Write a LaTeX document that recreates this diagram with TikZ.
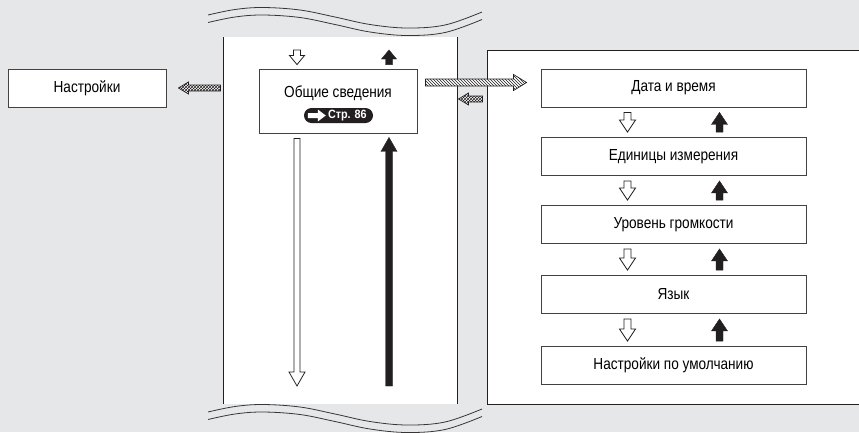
\documentclass[tikz,border=0pt]{standalone}
\usepackage{fontspec}
\setmainfont{Liberation Sans}[FakeStretch=0.85]
\newfontfamily\pgfont{Liberation Sans}[FakeStretch=0.9]
\usetikzlibrary{calc,patterns}
\definecolor{bg}{HTML}{E6E7E8}
\definecolor{ink}{HTML}{231F20}
\newcommand{\blockarrow}[6]{%
  \path[#1] let \p1=(#2), \p2=(#3), \n1={atan2(\y2-\y1,\x2-\x1)}, \n2={veclen(\x2-\x1,\y2-\y1)} in
   ([shift={(\p1)},rotate=\n1]0,#4) -- ([shift={(\p1)},rotate=\n1]\n2-#6,#4)
   -- ([shift={(\p1)},rotate=\n1]\n2-#6,#5) -- ([shift={(\p1)},rotate=\n1]\n2,0)
   -- ([shift={(\p1)},rotate=\n1]\n2-#6,-#5) -- ([shift={(\p1)},rotate=\n1]\n2-#6,-#4)
   -- ([shift={(\p1)},rotate=\n1]0,-#4) -- cycle;}
\tikzset{
  box/.style={draw=ink!85, line width=0.9pt, fill=white, minimum height=38pt, inner sep=0pt,
    font=\fontsize{16}{19}\selectfont},
  rbox/.style={box, minimum width=265pt},
  hollow/.style={fill=white, draw=ink, line width=0.8pt, line join=miter},
  solidarr/.style={fill=ink, draw=ink, line width=0.4pt, line join=miter},
  hatched/.style={preaction={fill=white}, pattern=north west lines, pattern color=ink, draw=ink, line width=0.7pt},
  chain/.style={preaction={fill=white}, pattern=crosshatch, pattern color=ink, draw=ink, line width=0.7pt},
  wave/.style={draw=ink!90, line width=0.8pt},
  edge/.style={draw=ink, line width=0.8pt}
}
\begin{document}
\begin{tikzpicture}[x=1pt,y=-1pt]
\fill[bg] (0,0) rectangle (859,432);
\useasboundingbox (0,0) rectangle (859,432);
% column
\fill[white] (223,37) rectangle (457,404);
\draw[edge] (223,37) -- (223,404);
\draw[edge] (457,37) -- (457,404);
% right panel
\fill[white] (487,50) rectangle (860,404);
\draw[edge] (860,50) -- (487,50) -- (487,404) -- (860,404);
% waves
\foreach \dy in {0,7.5,397,404.5}{
  \draw[wave, shift={(0,\dy)}] plot[smooth, tension=0.6] coordinates
    {(208,15) (235,9.5) (263,7.5) (300,10) (335,17) (370,24.5) (407,28) (445,25) (482,12)};
}
% nodes
\node[box, minimum width=158pt] (set) at (87,88) {Настройки};
\node[box, minimum width=158pt, minimum height=64pt] (ov) at (338,101) {};
\node[font=\fontsize{16}{19}\selectfont] (ovt) at (338,93) {Общие сведения};
\node[fill=ink, rounded corners=7.5pt, minimum width=69pt, minimum height=15pt, inner sep=0pt] (pg) at (338.5,115.5) {};
\node[text=white, font=\pgfont\bfseries\fontsize{12}{13}\selectfont, anchor=west, inner sep=0pt] (pgt) at ($(pg.west)+(24,0.5)$) {Стр. 86};
\blockarrow{fill=white}{$(pg.west)+(4,0)$}{$(pg.west)+(22,0)$}{2.5}{6}{8}
\node[rbox] (dt) at (673.5,88) {Дата и время};
\node[rbox] (eu) at (673.5,156.5) {Единицы измерения};
\node[rbox] (ur) at (673.5,224.5) {Уровень громкости};
\node[rbox] (ya) at (673.5,294.5) {Язык};
\node[rbox] (df) at (673.5,365.5) {Настройки по умолчанию};
% coordinates
\coordinate (ct1) at (297,50);
\coordinate (ct2) at (389,50);
\coordinate (cb1) at (297,386);
\coordinate (cb2) at (389,386);
% column arrows
\blockarrow{hollow}{ct1}{$(ov.north)+(-41,-4)$}{3.5}{7.5}{9}
\blockarrow{solidarr}{$(ov.north)+(51,-4)$}{ct2}{3.5}{7.5}{9}
\blockarrow{hollow}{$(ov.south)+(-41,5)$}{cb1}{3}{8}{14}
\blockarrow{solidarr}{cb2}{$(ov.south)+(51,4)$}{3.5}{8}{14}
% horizontal arrows
\blockarrow{chain}{$(set.east)+(54,0)$}{$(set.east)+(12,0)$}{3}{6}{10}
\blockarrow{hatched}{$(ov.east)+(8,-18.5)$}{$(dt.west)+(-14,-5.5)$}{3.5}{8}{13}
\blockarrow{chain}{$(dt.west)+(-58,11)$}{$(dt.west)+(-82,11)$}{3}{6}{10}
% right panel arrows
\foreach \a/\b in {dt/eu, eu/ur, ur/ya, ya/df}{
  \blockarrow{hollow}{$(\a.south)+(-46,5)$}{$(\b.north)+(-46,-5)$}{3.5}{8}{12}
  \blockarrow{solidarr}{$(\b.north)+(46,-5)$}{$(\a.south)+(46,5)$}{3.5}{8}{12}
}
\end{tikzpicture}
\end{document}
